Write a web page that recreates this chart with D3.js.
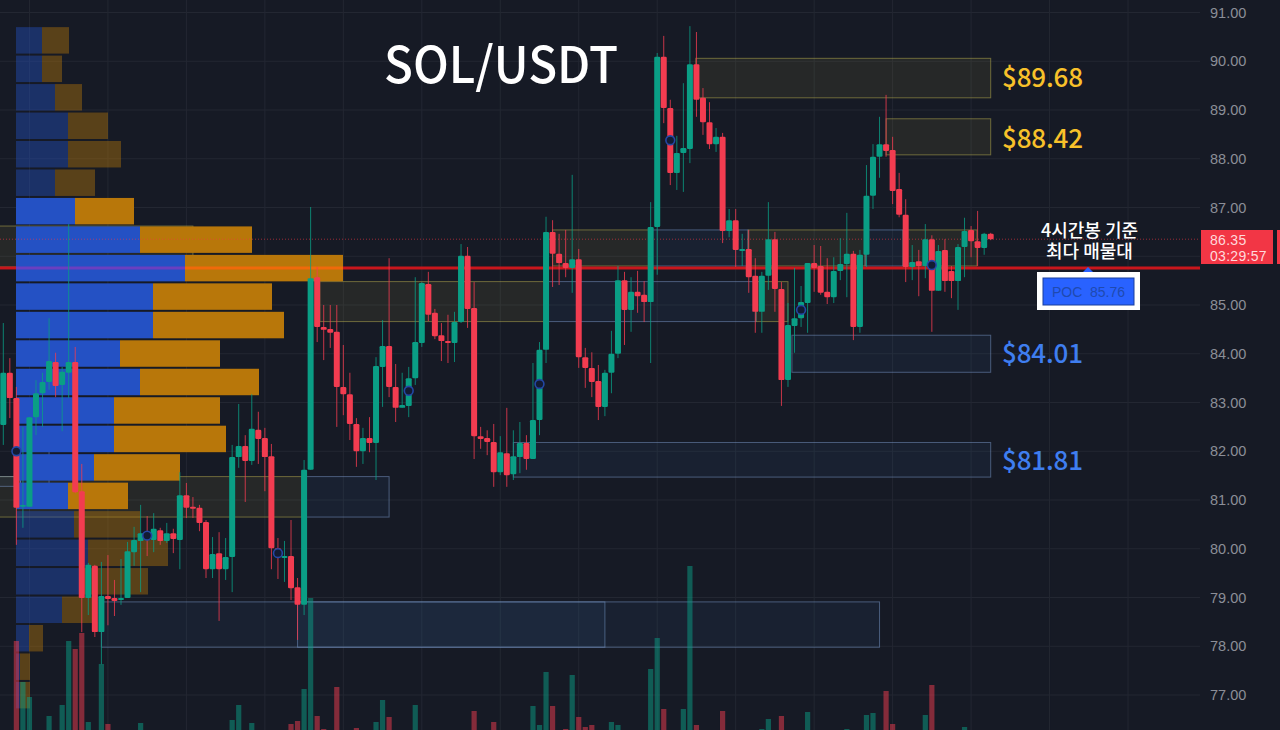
<!DOCTYPE html>
<html>
<head>
<meta charset="utf-8">
<script src="https://cdn.jsdelivr.net/npm/d3@7"></script>
<style>
  html, body { margin: 0; background: #161a25; overflow: hidden; }
  svg { display: block; }
  .axis text { font-family: "Liberation Sans", sans-serif; font-size: 14.5px; fill: #8b8e97; }
  .big { font-family: "Noto Sans CJK KR", "Noto Sans", sans-serif; }
</style>
</head>
<body>
<div id="chart"></div>
<script>
// =====================================
// DATA
// =====================================

const opens = [82.54,83.61,83.09,80.86,80.86,82.70,83.19,83.42,83.83,83.36,83.61,83.83,81.18,78.99,79.65,78.29,79.03,78.99,78.95,78.99,
  79.93,80.16,80.34,80.18,80.38,80.16,80.32,80.18,81.10,80.86,80.84,80.55,79.58,79.91,79.58,79.83,81.88,82.11,81.80,82.44,
  82.27,81.90,80.01,79.81,79.85,79.21,78.85,81.62,85.57,84.55,84.51,84.45,83.32,83.17,82.56,82.00,82.27,82.17,83.73,84.16,
  83.32,82.89,82.93,83.50,84.22,85.43,84.84,84.38,84.26,84.22,84.65,86.01,84.94,82.31,82.27,82.19,81.57,81.96,81.53,81.88,
  82.17,81.84,82.64,84.08,86.50,86.05,85.86,85.76,85.94,83.93,83.71,83.44,82.91,83.61,84.00,85.51,84.90,85.27,85.21,85.06,
  86.60,90.09,89.04,87.71,88.12,88.20,89.94,89.25,88.75,88.30,88.45,86.52,86.74,86.11,86.15,85.60,84.86,85.60,86.35,85.33,
  83.46,84.57,84.73,85.04,85.86,85.80,85.27,85.16,85.70,85.84,86.05,84.55,86.03,87.24,88.04,88.30,88.18,87.38,86.85,85.78,
  85.90,85.80,86.35,85.29,86.13,85.70,85.49,86.19,86.54,86.31,86.17,86.46];
const highs = [84.63,83.91,83.32,82.50,82.70,83.46,83.61,84.73,84.02,83.73,86.66,84.14,81.74,79.71,79.67,79.73,79.87,79.36,79.79,80.14,
  80.45,80.90,80.67,80.73,80.43,80.53,80.41,81.57,81.35,81.06,80.90,80.59,80.24,80.34,80.22,82.13,82.97,82.33,83.17,82.81,
  82.48,82.15,80.22,80.16,80.59,79.40,81.82,87.01,85.78,85.00,85.00,85.00,84.18,83.61,82.68,82.48,82.70,83.93,84.69,85.96,
  83.79,83.61,83.73,85.57,85.47,85.68,84.92,84.63,84.80,84.86,86.25,86.19,85.47,82.50,82.43,82.56,82.31,82.89,82.43,82.60,
  82.33,83.81,84.24,86.81,86.74,86.46,86.54,87.67,86.15,84.12,84.03,83.77,83.67,84.47,85.80,85.68,85.57,85.70,85.49,87.11,
  90.17,90.52,89.21,88.47,89.55,90.72,90.60,89.45,89.16,88.63,88.53,86.97,86.97,86.46,86.54,85.96,85.68,87.11,86.50,85.47,
  85.04,85.76,85.39,85.86,86.23,86.21,85.96,85.98,86.37,86.89,86.11,86.13,87.87,88.30,88.86,89.31,88.45,87.71,87.17,86.23,
  86.13,86.66,86.43,86.23,86.35,85.80,86.25,86.79,86.62,86.93,86.48,86.48];
const lows = [82.13,82.68,80.08,80.43,80.86,82.33,82.50,83.26,83.11,82.41,83.09,81.14,78.29,78.64,78.19,77.63,78.43,78.62,78.85,78.99,
  79.65,79.11,79.85,79.93,80.08,80.12,79.91,79.58,80.63,80.63,80.36,79.40,79.40,78.52,79.36,79.11,81.66,80.96,81.72,81.74,
  81.18,79.58,79.38,79.32,78.95,78.13,78.64,81.62,84.24,83.87,84.12,82.50,82.74,82.23,81.68,81.74,81.98,81.41,82.91,83.11,
  82.60,82.89,82.70,83.36,84.14,84.67,84.30,83.85,83.81,83.83,84.63,84.53,81.84,82.05,81.92,81.27,81.51,81.27,81.41,81.55,
  81.62,81.84,82.33,83.81,85.37,85.41,85.57,85.25,83.71,83.30,83.11,82.64,82.72,83.19,83.91,84.18,84.45,84.84,84.65,83.81,
  85.62,88.73,87.46,87.36,87.32,87.91,88.86,88.49,88.20,88.14,86.27,86.39,85.78,85.80,85.25,84.43,84.43,85.31,84.86,82.93,
  83.32,84.02,84.55,84.43,85.27,85.21,85.02,85.04,85.51,85.16,84.28,84.43,85.78,86.97,87.61,88.04,87.07,86.80,85.47,85.51,
  85.18,85.55,84.45,85.29,85.27,85.14,84.90,85.57,85.98,85.80,86.03,86.33];
const closes = [83.61,83.09,80.84,80.90,82.70,83.19,83.42,83.85,83.34,83.63,83.83,81.16,78.99,79.67,78.29,79.03,78.97,78.93,78.99,79.95,
  80.18,80.32,80.18,80.41,80.16,80.32,80.20,81.10,80.84,80.82,80.53,79.58,79.89,79.58,79.83,81.88,82.11,81.80,82.46,82.25,
  81.88,80.01,79.91,79.85,79.19,78.85,81.62,85.55,84.55,84.49,84.43,83.32,83.17,82.56,82.00,82.27,82.17,83.75,84.16,83.32,
  82.89,82.95,83.50,84.24,85.45,84.80,84.36,84.26,84.22,84.65,86.01,84.92,82.31,82.25,82.19,81.57,81.98,81.51,81.90,82.17,
  81.84,82.64,84.08,86.50,86.05,85.86,85.76,85.94,83.93,83.71,83.42,82.91,83.61,84.00,85.51,84.90,85.27,85.18,85.06,86.60,
  90.09,89.04,87.71,88.12,88.22,89.94,89.21,88.75,88.30,88.45,86.52,86.74,86.13,86.15,85.57,84.86,85.60,86.35,85.33,83.46,
  84.59,84.73,85.06,85.86,85.76,85.25,85.16,85.70,85.84,86.05,84.55,86.03,87.24,88.04,88.30,88.16,87.34,86.85,85.78,85.88,
  85.80,86.35,85.29,86.11,85.49,85.49,86.19,86.52,86.31,86.17,86.46,86.35];

// only the volume bars that reach into the picture
const volumeIndex = [2,3,4,7,9,10,11,12,13,15,16,21,35,36,38,44,45,46,47,48,49,51,54,57,58,59,63,72,75,81,82,83,84,86,87,88,89,90,93,94,99,100,101,104,105,106,110,116,117,119,123,129,132,133,135,136,141,142,147];
const volumeValues = [89,48,33,14,25,89,81,97,8,66,6,7,10,25,7,6,9,41,132,14,1,43,2,8,30,13,25,19,8,24,5,58,24,1,55,13,3,5,8,5,61,92,21,21,164,5,19,1,11,14,18,1,15,17,39,6,15,45,3];

const markerIndex = [2,22,42,62,82,102,122,142];
const markerPrice = [82.00,80.27,79.91,83.24,83.38,88.38,84.90,85.82];

// volume profile rows, top row first
const profileBuy = [26,26,39,52,52,39,59,124,169,137,137,104,124,98,98,78,52,58,72,63,46,13,4,4];
const profileSell = [27,20,27,40,53,40,59,112,158,119,131,100,119,106,112,86,60,66,80,69,30,14,10,10];
const profileTop = 90.70;
const profileStep = 0.584;

// zones: first bar, last bar, upper price, lower price
const yellowStart = [105.9,135,-1.5,84,113.9,137.6,48.4,115.1,-1.5];
const yellowEnd = [151,151,29,98.9,131.8,148.9,83.3,120,45.7];
const yellowHigh = [90.06,88.82,86.62,86.54,86.54,86.54,85.48,85.48,81.48];
const yellowLow = [89.25,88.08,85.78,85.80,85.80,85.80,84.66,84.66,80.65];

const blueStart = [98.9,131.8,83.3,45.7,15,45,120.6,78,2.6,-1.5];
const blueEnd = [113.9,137.6,115.1,59,92,134,151,151,7,2.6];
const blueHigh = [86.54,86.54,85.48,81.48,78.91,78.91,84.38,82.18,82.35,81.48];
const blueLow = [85.80,85.80,84.66,80.65,77.98,77.98,83.62,81.47,81.28,81.28];

const tickPrices = [77,78,79,80,81,82,83,84,85,86,87,88,89,90,91];
const gridBars = d3.range(4, 190, 12);

const lastPrice = 86.35;
const pocPrice = 85.76;

const targetLabels = ["$89.68", "$88.42", "$84.01", "$81.81"];
const targetPrices = [89.68, 88.42, 84.01, 81.81];

// =====================================
// DIMENSIONS
// =====================================

const width = 1280;
const height = 730;
const plotRight = 1200;

const green = "#0a9e85";
const red = "#f23c50";

// =====================================
// SVG
// =====================================

const svg = d3.select("#chart")
  .append("svg")
  .attr("width", width)
  .attr("height", height);

// =====================================
// SCALES
// =====================================

const x = d3.scaleLinear().domain([0, 151]).range([3.3, 990.7]);
const y = d3.scaleLinear().domain([77, 91]).range([695, 12.5]);
const profileX = d3.scaleLinear().domain([0, 330]).range([16, 346]);
const volumeY = d3.scaleLinear().domain([0, 170]).range([730, 560]);

// =====================================
// GRID AND AXIS
// =====================================

svg.append("g")
  .selectAll("line")
  .data(tickPrices)
  .enter()
  .append("line")
  .attr("x1", 0)
  .attr("x2", plotRight)
  .attr("y1", d => y(d))
  .attr("y2", d => y(d))
  .attr("stroke", "#232732");

svg.append("g")
  .selectAll("line")
  .data(gridBars.filter(d => x(d) < plotRight))
  .enter()
  .append("line")
  .attr("x1", d => x(d))
  .attr("x2", d => x(d))
  .attr("y1", 0)
  .attr("y2", height)
  .attr("stroke", "#232732");

const axis = svg.append("g")
  .attr("class", "axis")
  .attr("transform", `translate(${plotRight},0)`)
  .call(d3.axisRight(y).tickValues(tickPrices).tickSize(0).tickPadding(10).tickFormat(d3.format(".2f")));
axis.select(".domain").remove();

// =====================================
// ZONES
// =====================================

function drawZones(starts, ends, highsList, lowsList, fill, stroke) {
  svg.append("g")
    .selectAll("rect")
    .data(starts)
    .enter()
    .append("rect")
    .attr("x", d => x(d))
    .attr("y", (d, i) => y(highsList[i]))
    .attr("width", (d, i) => x(ends[i]) - x(d))
    .attr("height", (d, i) => y(lowsList[i]) - y(highsList[i]))
    .attr("fill", fill)
    .attr("stroke", stroke);
}

drawZones(yellowStart, yellowEnd, yellowHigh, yellowLow, "rgba(205,195,85,0.085)", "rgba(190,180,80,0.5)");
drawZones(blueStart, blueEnd, blueHigh, blueLow, "rgba(70,125,195,0.08)", "rgba(125,155,205,0.5)");

// =====================================
// VOLUME PROFILE
// =====================================

const profile = svg.append("g");

const rowTop = i => y(profileTop - i * profileStep);
const rowHeight = i => rowTop(i + 1) - rowTop(i) - 2;
const rowOpacity = i => (i >= 6 && i <= 16) ? 1 : 0.42;

profile.selectAll(".buy")
  .data(profileBuy)
  .enter()
  .append("rect")
  .attr("class", "buy")
  .attr("x", profileX(0))
  .attr("y", (d, i) => rowTop(i))
  .attr("width", d => profileX(d) - profileX(0))
  .attr("height", (d, i) => rowHeight(i))
  .attr("fill", "#2451c4")
  .attr("fill-opacity", (d, i) => rowOpacity(i));

profile.selectAll(".sell")
  .data(profileSell)
  .enter()
  .append("rect")
  .attr("class", "sell")
  .attr("x", (d, i) => profileX(profileBuy[i]))
  .attr("y", (d, i) => rowTop(i))
  .attr("width", d => profileX(d) - profileX(0))
  .attr("height", (d, i) => rowHeight(i))
  .attr("fill", "#b8770a")
  .attr("fill-opacity", (d, i) => rowOpacity(i));

// =====================================
// PRICE LINES
// =====================================

svg.append("line")
  .attr("x1", 0)
  .attr("x2", plotRight)
  .attr("y1", y(lastPrice))
  .attr("y2", y(lastPrice))
  .attr("stroke", "#f23645")
  .attr("stroke-opacity", 0.6)
  .attr("stroke-dasharray", "1 2");

// the POC line takes a different tint where it crosses the profile row
const pocRow = 8;
const pocStops = [0, profileX(0), profileX(profileBuy[pocRow]), profileX(profileBuy[pocRow] + profileSell[pocRow]), plotRight];
const pocColors = ["#c9161c", "#6a3fc0", "#f06a0a", "#c9161c"];

svg.append("g")
  .selectAll("line")
  .data(pocColors)
  .enter()
  .append("line")
  .attr("x1", (d, i) => pocStops[i])
  .attr("x2", (d, i) => pocStops[i + 1])
  .attr("y1", y(pocPrice))
  .attr("y2", y(pocPrice))
  .attr("stroke", d => d)
  .attr("stroke-width", 3);

// =====================================
// VOLUME BARS
// =====================================

svg.append("g")
  .selectAll("rect")
  .data(volumeIndex)
  .enter()
  .append("rect")
  .attr("x", d => x(d) - 2.6)
  .attr("y", (d, i) => volumeY(volumeValues[i]))
  .attr("width", 5.2)
  .attr("height", (d, i) => volumeY(0) - volumeY(volumeValues[i]))
  .attr("fill", d => closes[d] >= opens[d] ? green : red)
  .attr("fill-opacity", 0.5);

// =====================================
// CANDLES
// =====================================

const candles = svg.selectAll(".candle")
  .data(opens)
  .enter()
  .append("g")
  .attr("class", "candle")
  .attr("fill", (d, i) => closes[i] >= d ? green : red)
  .attr("stroke", (d, i) => closes[i] >= d ? green : red);

candles.append("line")
  .attr("x1", (d, i) => x(i))
  .attr("x2", (d, i) => x(i))
  .attr("y1", (d, i) => y(highs[i]))
  .attr("y2", (d, i) => y(lows[i]))
  .attr("stroke-width", 1)
  .attr("stroke-opacity", 0.8);

candles.append("rect")
  .attr("x", (d, i) => x(i) - 3)
  .attr("y", (d, i) => y(Math.max(d, closes[i])))
  .attr("width", 6)
  .attr("height", (d, i) => Math.max(1.5, Math.abs(y(d) - y(closes[i]))))
  .attr("rx", 1.2)
  .attr("stroke", "none");

svg.append("g")
  .selectAll("circle")
  .data(markerIndex)
  .enter()
  .append("circle")
  .attr("cx", d => x(d))
  .attr("cy", (d, i) => y(markerPrice[i]))
  .attr("r", 4.4)
  .attr("fill", "#131b33")
  .attr("stroke", "#2347a5")
  .attr("stroke-width", 1.6);

// =====================================
// TEXT
// =====================================

svg.append("text")
  .attr("class", "big")
  .attr("x", 384)
  .attr("y", 83)
  .attr("font-size", 50)
  .attr("font-weight", 500)
  .attr("textLength", 234)
  .attr("lengthAdjust", "spacingAndGlyphs")
  .attr("fill", "#ffffff")
  .text("SOL/USDT");

svg.append("g")
  .selectAll("text")
  .data(targetLabels)
  .enter()
  .append("text")
  .attr("class", "big")
  .attr("x", 1002)
  .attr("y", (d, i) => y(targetPrices[i] - 0.2))
  .attr("font-size", 26)
  .attr("font-weight", 500)
  .attr("textLength", 81)
  .attr("fill", (d, i) => targetPrices[i] > pocPrice ? "#f8c12a" : "#3f7ef0")
  .text(d => d);

svg.append("text")
  .attr("class", "big")
  .attr("x", 1089.5)
  .attr("y", 237)
  .attr("text-anchor", "middle")
  .attr("font-size", 18)
  .attr("font-weight", 500)
  .attr("fill", "#ffffff")
  .text("4시간봉 기준");

svg.append("text")
  .attr("class", "big")
  .attr("x", 1089.5)
  .attr("y", 258)
  .attr("text-anchor", "middle")
  .attr("font-size", 18)
  .attr("font-weight", 500)
  .attr("fill", "#ffffff")
  .text("최다 매물대");

// =====================================
// POC LABEL
// =====================================

svg.append("path")
  .attr("d", "M1083,272L1088,267L1093,272Z")
  .attr("fill", "#2962ff");

svg.append("rect")
  .attr("x", 1037)
  .attr("y", 272)
  .attr("width", 103)
  .attr("height", 38)
  .attr("fill", "#ffffff");

svg.append("rect")
  .attr("x", 1043)
  .attr("y", 278)
  .attr("width", 91)
  .attr("height", 27)
  .attr("fill", "#2962ff")
  .attr("stroke", "#1b3f9c");

svg.append("text")
  .attr("x", 1088.5)
  .attr("y", 297)
  .attr("text-anchor", "middle")
  .attr("font-family", "Liberation Sans, sans-serif")
  .attr("font-size", 14)
  .attr("fill", "#1f4ab0")
  .attr("xml:space", "preserve")
  .text("POC  " + pocPrice.toFixed(2));

// =====================================
// LAST PRICE LABEL
// =====================================

svg.append("rect")
  .attr("x", 1201)
  .attr("y", 230)
  .attr("width", 72)
  .attr("height", 34)
  .attr("fill", "#f23645");

svg.append("rect")
  .attr("x", 1277)
  .attr("y", 230)
  .attr("width", 3)
  .attr("height", 34)
  .attr("fill", "#f23645");

svg.append("text")
  .attr("x", 1210)
  .attr("y", 244.5)
  .attr("font-family", "Liberation Sans, sans-serif")
  .attr("font-size", 14)
  .attr("letter-spacing", 0.3)
  .attr("fill", "#ffd9dc")
  .text(lastPrice.toFixed(2));

svg.append("text")
  .attr("x", 1210)
  .attr("y", 261)
  .attr("font-family", "Liberation Sans, sans-serif")
  .attr("font-size", 14)
  .attr("letter-spacing", 0.3)
  .attr("fill", "#ffd9dc")
  .text("03:29:57");
</script>
</body>
</html>
